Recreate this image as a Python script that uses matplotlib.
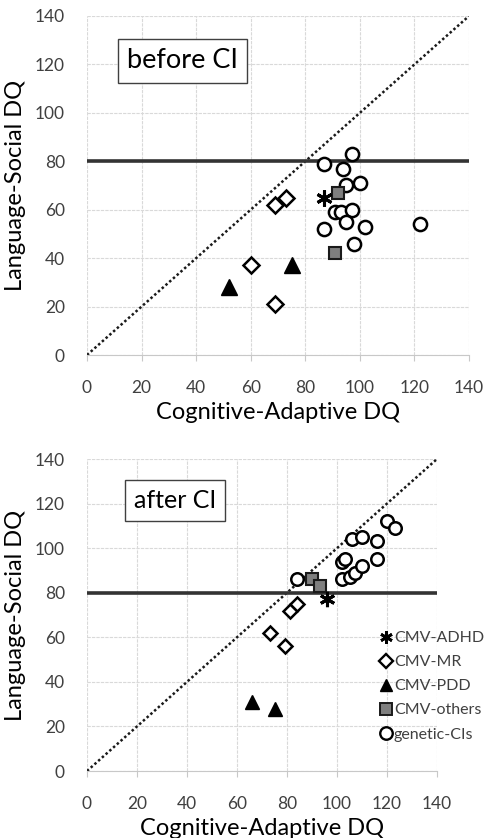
import matplotlib
matplotlib.use("Agg")
import matplotlib.pyplot as plt
from matplotlib.lines import Line2D

plt.rcParams['font.family'] = ['Lato', 'DejaVu Sans']

# ---- data: before CI ----
b_adhd_x = [87]; b_adhd_y = [65]
b_mr_x = [69, 73, 60, 69]; b_mr_y = [62, 65, 37, 21]
b_pdd_x = [52, 75]; b_pdd_y = [28, 37]
b_oth_x = [92, 91]; b_oth_y = [67, 42]
b_gen_x = [87, 97, 94, 95, 100, 91, 93, 97, 95, 87, 102, 98, 122]
b_gen_y = [79, 83, 77, 70, 71, 59, 59, 60, 55, 52, 53, 46, 54]

# ---- data: after CI ----
a_adhd_x = [96]; a_adhd_y = [77]
a_mr_x = [81, 84, 73, 79]; a_mr_y = [72, 75, 62, 56]
a_pdd_x = [66, 75]; a_pdd_y = [31, 28]
a_oth_x = [90, 93]; a_oth_y = [86, 83]
a_gen_x = [84, 102, 105, 107, 110, 116, 116, 106, 110, 120, 123, 102, 103]
a_gen_y = [86, 86, 87, 89, 92, 95, 103, 104, 105, 112, 109, 94, 95]

ticks = [0, 20, 40, 60, 80, 100, 120, 140]
cutoff = 80
labels = ["CMV-ADHD", "CMV-MR", "CMV-PDD", "CMV-others", "genetic-CIs"]

W, H = 486, 838
fig = plt.figure(figsize=(W / 100, H / 100), dpi=100)

def px_axes(l, r, t, b):
    return fig.add_axes([l / W, 1 - b / H, (r - l) / W, (b - t) / H])

ax1 = px_axes(87, 469, 16, 355)
ax2 = px_axes(87, 437, 459, 771)

def draw(ax, adhd, mr, pdd, oth, gen, title, box_xy, box_fs, ms):
    ax.set_xlim(0, 140)
    ax.set_ylim(0, 140)
    ax.set_xticks(ticks)
    ax.set_yticks(ticks)
    ax.grid(True, color='#d9d9d9', linewidth=0.8, linestyle=(0, (3, 1)))
    ax.set_axisbelow(True)
    for s in ['top', 'right', 'left']:
        ax.spines[s].set_visible(False)
    ax.spines['bottom'].set_color('#c8c8c8')
    ax.tick_params(axis='both', colors='#404040', labelsize=12.5, length=4)
    ax.tick_params(axis='x', color='#c8c8c8', pad=14)
    ax.tick_params(axis='y', color='#c8c8c8', length=0, pad=16)
    ax.plot(ticks[::len(ticks)-1], ticks[::len(ticks)-1], linestyle=(0, (1, 1)),
            color='#1a1a1a', linewidth=1.8, zorder=2)
    ax.axhline(cutoff, color='#333333', linewidth=2.6, zorder=2)
    ax.plot(gen[0], gen[1], 'o', ms=ms, mfc='white', mec='black', mew=1.8, zorder=3, linestyle='none')
    ax.plot(mr[0], mr[1], 'D', ms=ms - 1.5, mfc='white', mec='black', mew=1.8, zorder=3, linestyle='none')
    ax.plot(pdd[0], pdd[1], '^', ms=ms + 1.5, mfc='black', mec='black', mew=1, zorder=3, linestyle='none')
    ax.plot(oth[0], oth[1], 's', ms=ms - 1, mfc='#7f7f7f', mec='#1a1a1a', mew=1.5, zorder=4, linestyle='none')
    ax.plot(adhd[0], adhd[1], marker=(6, 2, 0), ms=ms + 2, mec='black', mew=2.2, zorder=4, linestyle='none')
    ax.set_xlabel("Cognitive-Adaptive DQ", fontsize=17, color='black', labelpad=4)
    ax.set_ylabel("Language-Social DQ", fontsize=17, color='black', labelpad=6)
    ax.text(box_xy[0], box_xy[1], title, fontsize=box_fs, ha='center', va='center',
            transform=ax.transData,
            bbox=dict(boxstyle='square,pad=0.35', fc='white', ec='#404040', lw=1.0))

draw(ax1, (b_adhd_x, b_adhd_y), (b_mr_x, b_mr_y), (b_pdd_x, b_pdd_y),
     (b_oth_x, b_oth_y), (b_gen_x, b_gen_y), "before CI", (35, 121.5), 19.5, 9.5)
draw(ax2, (a_adhd_x, a_adhd_y), (a_mr_x, a_mr_y), (a_pdd_x, a_pdd_y),
     (a_oth_x, a_oth_y), (a_gen_x, a_gen_y), "after CI", (35.3, 121.3), 18, 9)

handles = [
    Line2D([], [], marker=(6, 2, 0), ms=9, mec='black', mew=2, linestyle='none'),
    Line2D([], [], marker='D', ms=7, mfc='white', mec='black', mew=1.7, linestyle='none'),
    Line2D([], [], marker='^', ms=8, mfc='black', mec='black', linestyle='none'),
    Line2D([], [], marker='s', ms=9, mfc='#7f7f7f', mec='#1a1a1a', mew=1.4, linestyle='none'),
    Line2D([], [], marker='o', ms=9, mfc='white', mec='black', mew=1.7, linestyle='none'),
]
fig.legend(handles, labels, loc='upper left', bbox_to_anchor=(373 / W, 1 - 623 / H),
           frameon=False, fontsize=11.5, handlelength=0.6, handletextpad=0.2,
           labelspacing=0.62, borderpad=0, labelcolor='#404040')

fig.savefig("out.png", dpi=100)
